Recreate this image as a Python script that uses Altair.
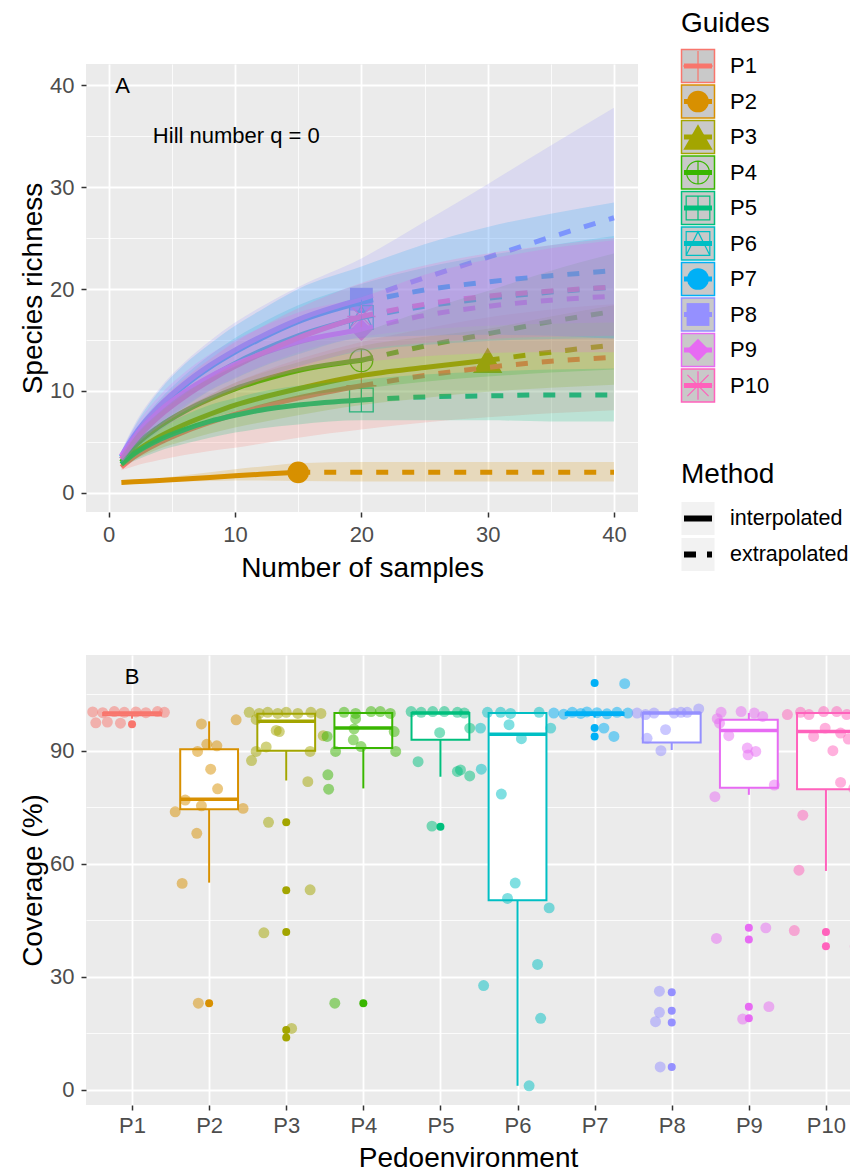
import json
import altair as alt
import pandas as pd

# ---------------- shared categories / colours ----------------
CATS = ["P1", "P2", "P3", "P4", "P5", "P6", "P7", "P8", "P9", "P10"]
COLORS = ["#F8766D", "#D89000", "#A3A500", "#39B600", "#00BF7D",
          "#00BFC4", "#00B0F6", "#9590FF", "#E76BF3", "#FF62BC"]

# ---------------- Panel A : rarefaction / extrapolation ----------------
X_GRID = [1, 2, 4, 6, 8, 10, 12, 15, 20, 25, 30, 35, 40]
OBS_N = [20, 15, 30, 20, 20, 20, 20, 20, 20, 20]

RICH = {
    "P1": [2.5, 3.5, 4.9, 6.0, 6.9, 7.7, 8.4, 9.3, 10.5, 11.5, 12.3, 12.9, 13.3],
    "P2": [1.0, 1.07, 1.2, 1.35, 1.5, 1.65, 1.8, 2.0, 2.0, 2.0, 2.0, 2.0, 2.0],
    "P3": [2.8, 3.9, 5.5, 6.7, 7.7, 8.6, 9.3, 10.2, 11.5, 12.3, 13.0, 13.8, 14.5],
    "P4": [3.0, 4.5, 6.5, 8.0, 9.2, 10.2, 11.0, 12.0, 13.0, 14.4, 15.6, 16.8, 17.8],
    "P5": [2.8, 3.8, 5.2, 6.2, 7.0, 7.6, 8.1, 8.6, 9.1, 9.4, 9.5, 9.6, 9.6],
    "P6": [3.3, 5.0, 7.6, 9.6, 11.3, 12.7, 13.9, 15.4, 17.2, 18.3, 19.1, 19.7, 20.2],
    "P7": [3.5, 5.4, 8.3, 10.5, 12.3, 13.8, 15.1, 16.8, 18.7, 19.9, 20.7, 21.3, 21.8],
    "P8": [3.6, 5.6, 8.5, 10.7, 12.5, 14.0, 15.3, 17.0, 19.0, 21.1, 23.1, 25.1, 27.0],
    "P9": [3.6, 5.4, 8.0, 9.9, 11.4, 12.6, 13.6, 14.8, 16.0, 17.4, 18.3, 18.9, 19.3],
    "P10": [3.3, 5.0, 7.5, 9.4, 11.0, 12.4, 13.6, 15.2, 17.3, 18.5, 19.3, 19.8, 20.2],
}
RICH_LO = {
    "P1": [2.2, 2.6, 3.2, 3.7, 4.1, 4.4, 4.8, 5.4, 6.2, 6.9, 7.4, 7.8, 8.1],
    "P2": [1.0, 1.0, 1.05, 1.1, 1.15, 1.2, 1.2, 1.15, 1.1, 1.1, 1.1, 1.1, 1.1],
    "P3": [2.5, 3.2, 4.3, 5.1, 5.8, 6.4, 6.9, 7.6, 8.6, 9.3, 9.9, 10.3, 10.6],
    "P4": [2.6, 3.6, 5.1, 6.2, 7.2, 8.0, 8.6, 9.4, 10.2, 10.9, 11.4, 11.8, 12.1],
    "P5": [2.5, 3.1, 4.1, 4.8, 5.4, 5.9, 6.3, 6.7, 7.1, 7.1, 7.1, 7.0, 7.0],
    "P6": [2.9, 4.1, 6.1, 7.7, 9.1, 10.2, 11.2, 12.4, 13.9, 14.5, 14.9, 15.1, 15.2],
    "P7": [3.0, 4.4, 6.6, 8.4, 10.0, 11.2, 12.3, 13.6, 15.2, 15.4, 15.5, 15.4, 15.1],
    "P8": [3.1, 4.6, 6.8, 8.6, 10.1, 11.3, 12.4, 13.8, 15.3, 16.0, 16.4, 16.6, 16.7],
    "P9": [3.1, 4.5, 6.5, 8.0, 9.2, 10.2, 11.0, 11.9, 12.8, 13.4, 13.7, 13.8, 13.8],
    "P10": [2.9, 4.2, 6.1, 7.6, 8.9, 10.0, 11.0, 12.3, 14.0, 14.7, 15.1, 15.3, 15.4],
}
RICH_HI = {
    "P1": [2.8, 4.4, 6.6, 8.3, 9.6, 10.8, 11.8, 13.1, 14.8, 16.1, 17.2, 18.0, 18.5],
    "P2": [1.0, 1.15, 1.4, 1.7, 2.0, 2.3, 2.55, 2.9, 3.0, 3.0, 3.0, 3.0, 3.0],
    "P3": [3.1, 4.6, 6.7, 8.3, 9.6, 10.8, 11.7, 12.8, 14.4, 15.3, 16.1, 17.3, 18.4],
    "P4": [3.4, 5.4, 7.9, 9.8, 11.2, 12.4, 13.4, 14.6, 15.8, 17.9, 19.8, 21.8, 23.5],
    "P5": [3.1, 4.5, 6.3, 7.6, 8.6, 9.3, 9.9, 10.5, 11.1, 11.6, 11.9, 12.1, 12.2],
    "P6": [3.7, 5.9, 9.1, 11.5, 13.5, 15.2, 16.6, 18.4, 20.5, 22.1, 23.3, 24.3, 25.2],
    "P7": [4.0, 6.4, 10.0, 12.6, 14.6, 16.4, 17.9, 20.0, 22.2, 24.4, 26.1, 27.4, 28.5],
    "P8": [4.1, 6.6, 10.2, 12.8, 14.9, 16.7, 18.2, 20.2, 23.0, 26.6, 30.3, 34.1, 37.8],
    "P9": [4.1, 6.3, 9.5, 11.8, 13.6, 15.0, 16.2, 17.7, 19.2, 21.4, 22.9, 24.0, 24.8],
    "P10": [3.7, 5.8, 8.9, 11.2, 13.1, 14.8, 16.2, 18.1, 20.6, 22.3, 23.5, 24.3, 25.0],
}
ANNOT_A_TEXT = ["A", "Hill number q = 0"]
ANNOT_A_X = [1.1, 10.1]
ANNOT_A_Y = [39.9, 35.0]
METHODS = ["interpolated", "extrapolated"]
TICKS_A = [0, 5, 10, 15, 20, 25, 30, 35, 40]

# ---------------- Panel B : coverage boxplots ----------------
TICKS_B = [0, 15, 30, 45, 60, 75, 90, 105]
BOX_LOW = [98.5, 55.0, 82.1, 80.0, 83.1, 1.1, 98.8, 90.2, 78.3, 58.1]
BOX_Q1 = [99.4, 74.5, 90.0, 90.7, 92.9, 50.3, 99.5, 92.2, 80.2, 79.8]
BOX_MED = [100.0, 77.1, 97.8, 96.0, 100.0, 94.4, 100.0, 100.0, 95.4, 95.1]
BOX_Q3 = [100.0, 90.4, 99.8, 100.0, 100.0, 100.0, 100.0, 100.0, 98.2, 100.0]
BOX_HIGH = [100.0, 97.8, 100.0, 100.0, 100.0, 100.0, 100.0, 100.0, 100.0, 100.0]
OUTLIERS = {
    "P1": [97.0], "P2": [23.0], "P3": [71.0, 53.0, 41.9, 15.9, 13.9],
    "P4": [23.0], "P5": [69.8], "P6": [], "P7": [108.0, 96.0, 93.8],
    "P8": [25.9, 21.0, 17.9, 6.1], "P9": [43.0, 39.9, 22.1, 19.0], "P10": [41.9, 38.1],
}
JIT_DX = {
    "P1": [-0.51, -0.38, -0.23, -0.10, 0.05, 0.18, 0.33, 0.42, -0.47, -0.32, -0.15],
    "P2": [-0.10, 0.35, -0.03, 0.10, -0.15, 0.02, 0.11, -0.31, -0.10, -0.44, 0.44, -0.16, -0.35, -0.14],
    "P3": [-0.48, -0.35, -0.24, -0.11, 0.0, 0.15, 0.32, 0.45, -0.39, -0.13, -0.09, -0.26, -0.39,
           0.31, -0.45, 0.48, 0.28, -0.23, 0.31, -0.29, 0.07],
    "P4": [-0.25, -0.10, 0.10, 0.22, 0.35, -0.10, -0.12, 0.40, -0.13, -0.03, -0.36, 0.42, -0.47,
           -0.46, -0.45, -0.37],
    "P5": [-0.38, -0.25, -0.10, 0.05, 0.22, 0.31, -0.01, 0.38, -0.29, 0.22, 0.26, 0.38, -0.11],
    "P6": [-0.39, -0.22, -0.09, 0.28, -0.48, -0.11, 0.43, 0.05, -0.47, -0.21, -0.03, -0.13, 0.41,
           0.26, -0.44, 0.30, 0.15],
    "P7": [-0.53, -0.40, -0.29, -0.18, -0.10, 0.03, 0.16, 0.29, 0.43, 0.39, 0.12, 0.25],
    "P8": [-0.45, -0.34, -0.23, 0.03, 0.12, 0.20, 0.35, -0.32, -0.08, -0.14, -0.16, -0.16, -0.21, -0.15],
    "P9": [-0.36, -0.10, 0.07, 0.18, -0.41, -0.38, -0.26, -0.02, 0.09, -0.01, 0.33, -0.44, -0.42,
           0.22, 0.26, -0.08],
    "P10": [-0.50, -0.33, -0.22, -0.03, 0.14, 0.27, 0.38, -0.16, -0.01, 0.19, 0.29, 0.09, 0.19,
            0.36, -0.30, -0.35, -0.41, 0.38],
}
JIT_Y = {
    "P1": [100.3, 100.1, 100.4, 100.2, 100.3, 100.1, 100.4, 100.2, 97.4, 97.6, 97.3],
    "P2": [97.1, 98.2, 91.7, 91.3, 89.8, 85.1, 79.9, 76.9, 75.4, 73.8, 74.7, 68.1, 54.8, 23.0],
    "P3": [100.2, 99.9, 100.2, 99.9, 100.2, 99.9, 100.2, 99.9, 98.3, 95.4, 95.1, 91.0, 89.8,
           89.8, 87.4, 94.0, 81.8, 71.0, 53.1, 41.7, 16.3],
    "P4": [100.2, 99.9, 100.4, 100.4, 99.9, 98.5, 95.8, 95.1, 92.9, 91.1, 89.8, 89.8, 93.8,
           83.6, 79.8, 23.0],
    "P5": [100.4, 100.2, 100.4, 100.4, 100.2, 100.0, 94.8, 96.0, 87.1, 84.5, 84.9, 83.3, 70.0],
    "P6": [100.2, 100.2, 99.9, 100.2, 96.0, 96.9, 96.0, 93.2, 85.1, 78.5, 54.9, 50.8, 48.3,
           33.3, 27.7, 19.0, 1.1],
    "P7": [100.0, 99.7, 100.2, 99.9, 100.3, 100.1, 99.8, 100.2, 100.0, 107.8, 96.0, 93.8],
    "P8": [100.0, 99.6, 100.0, 100.0, 100.2, 100.2, 101.1, 93.3, 95.6, 90.0, 26.2, 20.6, 18.1, 6.1],
    "P9": [100.2, 100.4, 100.0, 99.1, 98.5, 97.3, 94.0, 90.7, 89.8, 88.9, 80.9, 77.8, 40.2,
           43.0, 22.1, 18.8],
    "P10": [99.6, 100.2, 99.6, 100.4, 100.4, 99.6, 100.2, 93.8, 96.0, 94.7, 93.1, 90.0, 81.6,
            80.0, 72.9, 58.3, 42.3, 38.1],
}

# ---------------- styles ----------------
PLUS = "M-1,0H1M0,-1V1"
CIRC_PLUS = "M-1,0A1,1,0,1,1,1,0A1,1,0,1,1,-1,0ZM-1,0H1M0,-1V1"
SQ_PLUS = "M-1,-1H1V1H-1ZM-1,0H1M0,-1V1"
SQ_TRI = "M-1,-1H1V1H-1ZM-1,1L0,-1L1,1"
STAR = "M-1,0H1M0,-1V1M-0.75,-0.75L0.75,0.75M-0.75,0.75L0.75,-0.75"
SHAPES = [PLUS, "circle", "triangle-up", CIRC_PLUS, SQ_PLUS, SQ_TRI, "circle", "square", "diamond", STAR]
SIZES = [900, 470, 860, 520, 560, 560, 470, 520, 500, 800]
FILLED_CATS = ["P2", "P3", "P7", "P8", "P9"]
HOLLOW_CATS = ["P1", "P4", "P5", "P6", "P10"]
FONT = "Liberation Sans"

# ---------------- data tables ----------------
line_rows, band_rows, obs_rows = [], [], []
for i, g in enumerate(CATS):
    n = OBS_N[i]
    for j, x in enumerate(X_GRID):
        band_rows.append({"g": g, "x": x, "lo": RICH_LO[g][j], "hi": RICH_HI[g][j]})
        if x <= n:
            line_rows.append({"g": g, "x": x, "y": RICH[g][j], "m": "interpolated"})
        if x >= n:
            line_rows.append({"g": g, "x": x, "y": RICH[g][j], "m": "extrapolated"})
        if x == n:
            obs_rows.append({"g": g, "x": x, "y": RICH[g][j]})
lines_df = pd.DataFrame(line_rows)
band_df = pd.DataFrame(band_rows)
obs_df = pd.DataFrame(obs_rows)
annA_df = pd.DataFrame({"t": ANNOT_A_TEXT, "x": ANNOT_A_X, "y": ANNOT_A_Y})

box_df = pd.DataFrame({"g": CATS, "low": BOX_LOW, "q1": BOX_Q1, "med": BOX_MED,
                       "q3": BOX_Q3, "high": BOX_HIGH})
out_df = pd.DataFrame([{"g": g, "y": v} for g in CATS for v in OUTLIERS[g]])
jit_df = pd.DataFrame([{"g": g, "dx": d, "y": v} for g in CATS
                       for d, v in zip(JIT_DX[g], JIT_Y[g])])
annB_df = pd.DataFrame({"t": ["B"], "x": [1], "y": [109.5]})

IDX = "indexof(" + json.dumps(CATS) + ", datum.g) + 1"
SIZE_EXPR = json.dumps(SIZES) + "[indexof(" + json.dumps(CATS) + ", datum.g)]"


def major_minor(expr_major, major, minor):
    return {"condition": {"test": expr_major, "value": major}, "value": minor}


# ---------------- scales / axes ----------------
col = alt.Color("g:N", scale=alt.Scale(domain=CATS, range=COLORS), legend=None)
shp = alt.Shape("g:N", scale=alt.Scale(domain=CATS, range=SHAPES), legend=None)
siz = alt.Size("sz:Q", scale=None, legend=None)

MAJ_A = "datum.value % 10 === 0"
xA = alt.Scale(domain=[-1.8, 41.9], nice=False, zero=False)
yA = alt.Scale(domain=[-1.9, 42.1], nice=False, zero=False)
axXA = alt.Axis(values=TICKS_A, orient="bottom", title="Number of samples", grid=True,
                gridWidth=major_minor(MAJ_A, 1.8, 0.8),
                tickOpacity=major_minor(MAJ_A, 1, 0),
                labelExpr="datum.value % 10 === 0 ? datum.label : ''",
                labelPadding=7, titlePadding=9)
axYA = alt.Axis(values=TICKS_A, orient="left", title="Species richness", grid=True,
                gridWidth=major_minor(MAJ_A, 1.8, 0.8),
                tickOpacity=major_minor(MAJ_A, 1, 0),
                labelExpr="datum.value % 10 === 0 ? datum.label : ''",
                labelPadding=7, titlePadding=2, minExtent=37, maxExtent=37)

pts_filled = alt.Chart(obs_df).transform_filter(
    alt.FieldOneOfPredicate(field="g", oneOf=FILLED_CATS)
).transform_calculate(sz=SIZE_EXPR).mark_point(filled=True, opacity=1).encode(
    x=alt.X("x:Q", scale=xA, axis=axXA), y=alt.Y("y:Q", scale=yA, axis=axYA),
    color=col, shape=shp, size=siz)
pts_hollow = alt.Chart(obs_df).transform_filter(
    alt.FieldOneOfPredicate(field="g", oneOf=HOLLOW_CATS)
).transform_calculate(sz=SIZE_EXPR).mark_point(filled=False, opacity=1, strokeWidth=1.3).encode(
    x=alt.X("x:Q", scale=xA, axis=axXA), y=alt.Y("y:Q", scale=yA, axis=axYA),
    color=col, shape=shp, size=siz)
line_int = alt.Chart(lines_df).transform_filter(alt.datum.m == "interpolated").mark_line(
    strokeWidth=5, interpolate="monotone", strokeCap="butt").encode(
    x=alt.X("x:Q", scale=xA, axis=axXA), y=alt.Y("y:Q", scale=yA, axis=axYA),
    color=col, detail="g:N")
line_ext = alt.Chart(lines_df).transform_filter(alt.datum.m == "extrapolated").mark_line(
    strokeWidth=5, interpolate="monotone", strokeCap="butt", strokeDash=[12, 14]).encode(
    x=alt.X("x:Q", scale=xA, axis=axXA), y=alt.Y("y:Q", scale=yA, axis=axYA),
    color=col, detail="g:N")
ribbon = alt.Chart(band_df).mark_area(opacity=0.2, interpolate="monotone").encode(
    x=alt.X("x:Q", scale=xA, axis=axXA), y=alt.Y("lo:Q", scale=yA, axis=axYA), y2="hi:Q",
    color=col)
annA = alt.Chart(annA_df).mark_text(fontSize=22, font=FONT, color="black").encode(
    x=alt.X("x:Q", scale=xA, axis=axXA), y=alt.Y("y:Q", scale=yA, axis=axYA), text="t:N")

panelA = alt.layer(pts_filled, pts_hollow, line_int, line_ext, ribbon, annA).properties(
    width=552, height=448, view=alt.ViewBackground(fill="#EBEBEB", strokeWidth=0))

# ---------------- legend for panel A ----------------
leg_df = pd.DataFrame({"g": CATS})
legY = alt.Y("g:N", scale=alt.Scale(type="point", domain=CATS, range=[2.0, 321.5], padding=0),
             axis=None)
leg_keys = alt.Chart(leg_df).mark_square(size=1089, fill="#C9C9C9", strokeWidth=1.5,
                                          opacity=1).encode(
    x=alt.value(17), y=legY,
    stroke=alt.Stroke("g:N", scale=alt.Scale(domain=CATS, range=COLORS), legend=None))
leg_line = alt.Chart(leg_df).mark_point(shape="M-1,0H1", size=784, filled=False, strokeWidth=5,
                                        opacity=1, strokeCap="butt").encode(
    x=alt.value(17), y=legY, color=col)
leg_fill = alt.Chart(leg_df).transform_filter(
    alt.FieldOneOfPredicate(field="g", oneOf=FILLED_CATS)
).transform_calculate(sz=SIZE_EXPR).mark_point(filled=True, opacity=1).encode(
    x=alt.value(17), y=legY, color=col, shape=shp, size=siz)
leg_hollow = alt.Chart(leg_df).transform_filter(
    alt.FieldOneOfPredicate(field="g", oneOf=HOLLOW_CATS)
).transform_calculate(sz=SIZE_EXPR).mark_point(filled=False, opacity=1, strokeWidth=1.2).encode(
    x=alt.value(17), y=legY, color=col, shape=shp, size=siz)
leg_text = alt.Chart(leg_df).mark_text(align="left", baseline="middle", fontSize=22, font=FONT,
                                       color="black").encode(x=alt.value(49), y=legY, text="g:N")
leg_title1 = alt.Chart(pd.DataFrame({"t": ["Guides"]})).mark_text(
    align="left", baseline="alphabetic", fontSize=28, font=FONT, color="black").encode(
    x=alt.value(0), y=alt.value(-32), text="t:N")

m_df = pd.DataFrame({"m": METHODS})
mY = alt.Y("m:N", scale=alt.Scale(type="point", domain=METHODS, range=[454.5, 490.5], padding=0),
           axis=None)
m_keys = alt.Chart(m_df).mark_square(size=1089, fill="#F2F2F2", strokeWidth=0, opacity=1).encode(
    x=alt.value(17), y=mY)
m_lines = alt.Chart(m_df).mark_rule(strokeWidth=6, color="black", strokeCap="butt").encode(
    x=alt.value(3), x2=alt.value(31), y=mY,
    strokeDash=alt.StrokeDash("m:N", scale=alt.Scale(domain=METHODS, range=[[1, 0], [12, 11]]),
                              legend=None))
m_text = alt.Chart(m_df).mark_text(align="left", baseline="middle", fontSize=21.5, font=FONT,
                                   color="black").encode(x=alt.value(49), y=mY, text="m:N")
leg_title2 = alt.Chart(pd.DataFrame({"t": ["Method"]})).mark_text(
    align="left", baseline="alphabetic", fontSize=28, font=FONT, color="black").encode(
    x=alt.value(0), y=alt.value(419), text="t:N")

legend = alt.layer(leg_keys, leg_line, leg_fill, leg_hollow, leg_text, leg_title1,
                   m_keys, m_lines, m_text, leg_title2).resolve_scale(y="independent").properties(
    width=160, height=448, view=alt.ViewBackground(fill="transparent", strokeWidth=0))

# ---------------- Panel B ----------------
MAJ_B = "datum.value % 30 === 0"
xB = alt.Scale(domain=[0.403, 10.312], nice=False, zero=False)
yB = alt.Scale(domain=[-4, 115.4], nice=False, zero=False)
axXB = alt.Axis(values=list(range(1, 11)), labelExpr="'P' + datum.value", orient="bottom",
                title="Pedoenvironment", grid=True, gridWidth=1.8, labelPadding=5, titlePadding=8)
axYB = alt.Axis(values=TICKS_B, orient="left", title="Coverage (%)", grid=True,
                gridWidth=major_minor(MAJ_B, 1.8, 0.8),
                tickOpacity=major_minor(MAJ_B, 1, 0),
                labelExpr="datum.value % 30 === 0 ? datum.label : ''",
                labelPadding=7, titlePadding=2, minExtent=37, maxExtent=37)
colB = alt.Color("g:N", scale=alt.Scale(domain=CATS, range=COLORS), legend=None)

baseB = alt.Chart(box_df).transform_calculate(idx=IDX).transform_calculate(
    xl="datum.idx - 0.375", xr="datum.idx + 0.375")
wl = baseB.mark_rule(strokeWidth=2, clip=True).encode(
    x=alt.X("idx:Q", scale=xB, axis=axXB), y=alt.Y("low:Q", scale=yB, axis=axYB), y2="q1:Q",
    color=colB)
wh = baseB.mark_rule(strokeWidth=2, clip=True).encode(
    x=alt.X("idx:Q", scale=xB, axis=axXB), y=alt.Y("q3:Q", scale=yB, axis=axYB), y2="high:Q",
    color=colB)
boxes = baseB.mark_rect(fill="white", strokeWidth=2, clip=True).encode(
    x=alt.X("xl:Q", scale=xB, axis=axXB), x2="xr:Q",
    y=alt.Y("q1:Q", scale=yB, axis=axYB), y2="q3:Q",
    stroke=alt.Stroke("g:N", scale=alt.Scale(domain=CATS, range=COLORS), legend=None))
meds = baseB.mark_rule(strokeWidth=3.5, clip=True).encode(
    x=alt.X("xl:Q", scale=xB, axis=axXB), x2="xr:Q", y=alt.Y("med:Q", scale=yB, axis=axYB),
    color=colB)
outs = alt.Chart(out_df).transform_calculate(idx=IDX).mark_circle(
    size=64, opacity=1, clip=True).encode(
    x=alt.X("idx:Q", scale=xB, axis=axXB), y=alt.Y("y:Q", scale=yB, axis=axYB), color=colB)
jits = alt.Chart(jit_df).transform_calculate(idx=IDX).transform_calculate(
    xj="datum.idx + datum.dx").mark_circle(size=120, opacity=0.5, clip=True).encode(
    x=alt.X("xj:Q", scale=xB, axis=axXB), y=alt.Y("y:Q", scale=yB, axis=axYB), color=colB)
annB = alt.Chart(annB_df).mark_text(fontSize=22, font=FONT, color="black").encode(
    x=alt.X("x:Q", scale=xB, axis=axXB), y=alt.Y("y:Q", scale=yB, axis=axYB), text="t:N")

panelB = alt.layer(wl, wh, boxes, meds, outs, jits, annB).properties(
    width=764, height=450, view=alt.ViewBackground(fill="#EBEBEB", strokeWidth=0))

chart = alt.vconcat(
    alt.hconcat(panelA, legend, spacing=36),
    panelB, spacing=73
).properties(
    padding={"left": 11, "top": 2, "right": 0, "bottom": 0}
).configure(font=FONT).configure_view(strokeWidth=0).configure_axis(
    labelFont=FONT, labelFontSize=22, labelColor="#4D4D4D", titleFont=FONT, titleFontSize=28,
    titleFontWeight="normal", titleColor="black", tickColor="#333333", tickWidth=1.5,
    tickSize=5, domain=False, gridColor="white", labelOverlap=False, labelFlush=False
)

chart.save("out.html", embed_options={"renderer": "svg", "actions": False})
